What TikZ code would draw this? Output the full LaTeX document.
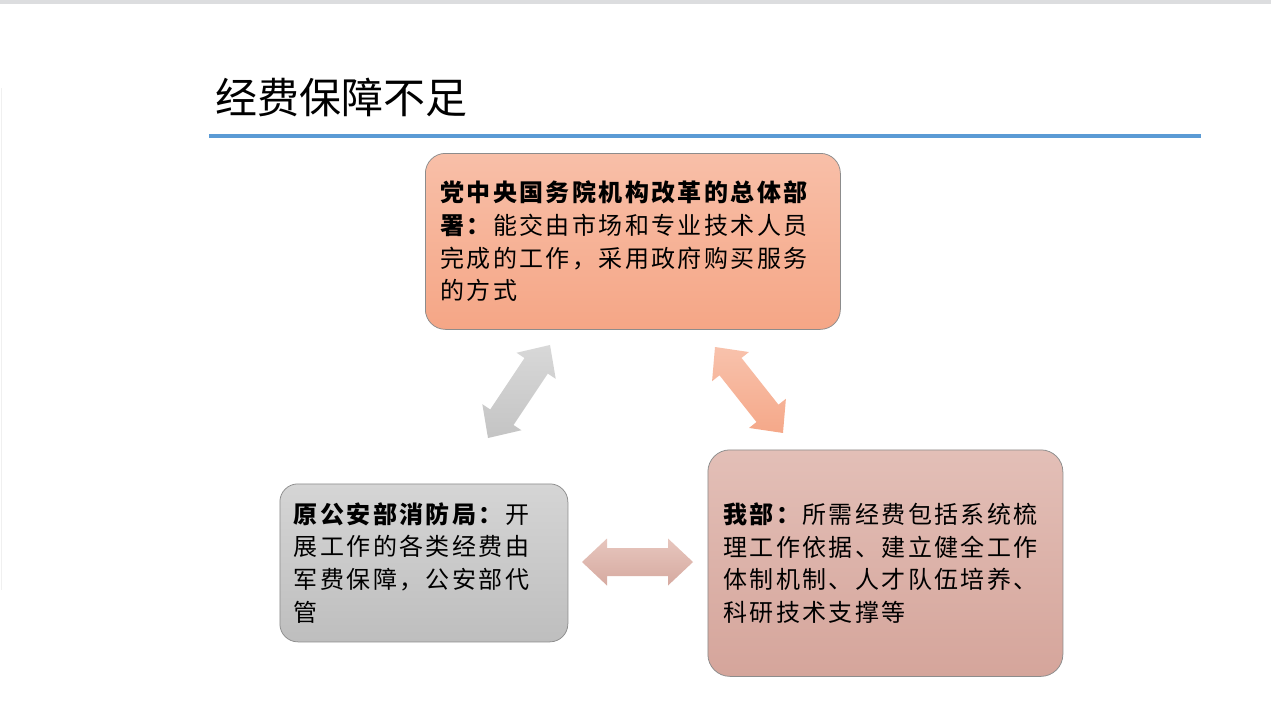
\documentclass[tikz,border=0pt]{standalone}
\usepackage{fontspec}
\setmainfont{Noto Sans CJK SC}
\usetikzlibrary{calc}
\definecolor{topbar}{RGB}{220,221,223}
\definecolor{faintline}{RGB}{240,240,240}
\definecolor{ruleblue}{RGB}{91,155,213}
\definecolor{boxborder}{RGB}{140,140,140}
\definecolor{orangeTop}{RGB}{248,191,168}
\definecolor{orangeBot}{RGB}{245,166,134}
\definecolor{grayTop}{RGB}{213,213,213}
\definecolor{grayBot}{RGB}{190,190,190}
\definecolor{roseTop}{RGB}{227,191,183}
\definecolor{roseBot}{RGB}{213,165,155}
\definecolor{gArrTop}{RGB}{216,216,216}
\definecolor{gArrBot}{RGB}{196,196,196}
\definecolor{oArrTop}{RGB}{248,194,172}
\definecolor{oArrBot}{RGB}{245,168,137}
\definecolor{rArrTop}{RGB}{231,198,190}
\definecolor{rArrBot}{RGB}{214,170,160}
\newcommand\dblarrow[4]{%
  \begin{scope}[shift={(#2)}, rotate=#3]
    \path[#1] (0,0) -- (25,23.5) -- (25,14) -- ({#4-25},14) -- ({#4-25},23.5)
      -- (#4,0) -- ({#4-25},-23.5) -- ({#4-25},-14) -- (25,-14) -- (25,-23.5) -- cycle;
  \end{scope}}
\begin{document}
\begin{tikzpicture}[x=1pt,y=-1pt,
  box/.style={draw=boxborder, line width=0.75pt, align=left, inner ysep=0pt,
    anchor=north west,
    font=\fontsize{24}{32.7}\selectfont\addfontfeature{LetterSpace=10}},
  titlefont/.style={font=\fontsize{42}{50}\selectfont}]
\useasboundingbox (0,0) rectangle (1271,718);
\fill[white] (0,0) rectangle (1271,718);
\fill[topbar] (0,0) rectangle (1271,4);
\coordinate (ft) at (1,88);
\coordinate (fb) at (1,590);
\draw[faintline, line width=1pt] (ft) -- (fb);
\node[titlefont, anchor=west, inner sep=0pt] (title) at (215,97) {经费保障不足};
\coordinate (rl) at (209,136);
\coordinate (rr) at (1201,136);
\draw[ruleblue, line width=4pt] (rl) -- (rr);

\node[box, top color=orangeTop, bottom color=orangeBot, rounded corners=20pt,
  inner xsep=15pt, text width=385pt, minimum height=176pt] (top) at (425,153)
  {\textbf{党中央国务院机构改革的总体部}\\\textbf{署：}能交由市场和专业技术人员\\完成的工作，采用政府购买服务\\的方式};

\node[box, top color=grayTop, bottom color=grayBot, rounded corners=18pt,
  inner xsep=14pt, text width=260pt, minimum height=158pt] (left) at (279.5,483.5)
  {\textbf{原公安部消防局：}开\\展工作的各类经费由\\军费保障，公安部代\\管};

\node[box, top color=roseTop, bottom color=roseBot, rounded corners=22pt,
  inner xsep=15.5pt, text width=324pt, minimum height=226.5pt] (right) at (707.5,449.5)
  {\textbf{我部：}所需经费包括系统梳\\理工作依据、建立健全工作\\体制机制、人才队伍培养、\\科研技术支撑等};

\coordinate (ga) at (488,438);
\coordinate (oa) at (715,347);
\coordinate (ha) at (582,562);
\dblarrow{top color=gArrTop, bottom color=gArrBot}{ga}{56.31}{111.8}
\dblarrow{top color=oArrTop, bottom color=oArrBot}{oa}{-51.67}{109.6}
\dblarrow{top color=rArrTop, bottom color=rArrBot}{ha}{0}{111}
\end{tikzpicture}
\end{document}
